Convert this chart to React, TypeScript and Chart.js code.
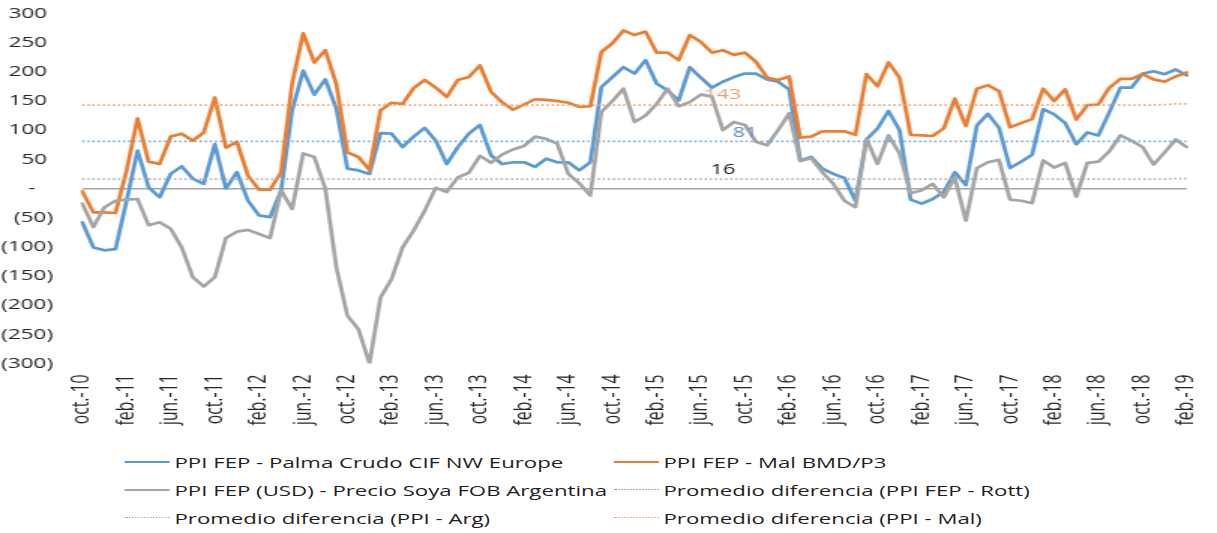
import React, { useEffect, useRef } from 'react';
import { Chart, registerables } from 'chart.js';

Chart.register(...registerables);

// ---------- categories ----------
const MONTH_NAMES = ['ene.', 'feb.', 'mar.', 'abr.', 'may.', 'jun.', 'jul.', 'ago.', 'sept.', 'oct.', 'nov.', 'dic.'];
const START_YEAR = 2010;
const START_MONTH = 9; // octubre
const N_MONTHS = 101; // oct-10 .. feb-19
const categories: string[] = Array.from({ length: N_MONTHS }, (_, i) => {
  const m = (START_MONTH + i) % 12;
  const y = START_YEAR + Math.floor((START_MONTH + i) / 12);
  return `${MONTH_NAMES[m]}-${String(y % 100).padStart(2, '0')}`;
});
const LABEL_EVERY = 4;

// ---------- series ----------
const palmaCrudo = [
  -58, -101, -106, -104, -22, 65, 2, -15, 25, 38,
  17, 8, 76, 0, 28, -21, -46, -49, -3, 134,
  202, 161, 187, 137, 34, 31, 25, 95, 94, 71,
  89, 104, 82, 42, 71, 94, 109, 57, 42, 45,
  45, 37, 51, 45, 45, 31, 45, 174, 191, 208,
  197, 220, 180, 168, 151, 208, 190, 173, 183, 191,
  197, 197, 187, 183, 170, 48, 54, 34, 25, 18,
  -21, 84, 103, 133, 100, -19, -26, -18, -6, 28,
  6, 108, 128, 104, 35, 46, 58, 136, 127, 112,
  76, 96, 91, 131, 173, 173, 197, 201, 196, 204,
  194,
];

const malBmd = [
  -5, -41, -41, -42, 30, 120, 46, 42, 89, 94,
  82, 96, 156, 70, 80, 22, -2, -2, 28, 180,
  266, 216, 237, 179, 62, 54, 32, 134, 147, 145,
  172, 186, 173, 157, 186, 191, 211, 166, 148, 135,
  144, 153, 152, 150, 147, 140, 141, 234, 249, 271,
  263, 269, 233, 233, 220, 263, 251, 233, 237, 229,
  233, 217, 190, 186, 192, 87, 89, 98, 98, 98,
  92, 196, 175, 216, 190, 92, 91, 90, 103, 154,
  107, 171, 177, 167, 105, 112, 119, 171, 150, 170,
  118, 143, 144, 173, 188, 188, 196, 187, 183, 192,
  199,
];

const soyaArg = [
  -26, -66, -32, -21, -19, -18, -63, -58, -69, -101,
  -152, -168, -152, -85, -74, -71, -78, -85, -3, -35,
  60, 54, 0, -135, -218, -241, -300, -187, -155, -101,
  -72, -38, 1, -6, 19, 27, 56, 44, 58, 67,
  73, 89, 85, 77, 25, 9, -12, 131, 150, 171,
  114, 125, 145, 171, 141, 148, 161, 158, 100, 114,
  109, 80, 74, 100, 129, 47, 52, 28, 8, -21,
  -32, 85, 42, 91, 60, -8, -3, 8, -15, 19,
  -55, 35, 45, 49, -19, -21, -25, 48, 36, 44,
  -14, 44, 46, 64, 91, 82, 71, 41, 62, 84,
  71,
];

const promRott = [
  81, 81, 81, 81, 81, 81, 81, 81, 81, 81,
  81, 81, 81, 81, 81, 81, 81, 81, 81, 81,
  81, 81, 81, 81, 81, 81, 81, 81, 81, 81,
  81, 81, 81, 81, 81, 81, 81, 81, 81, 81,
  81, 81, 81, 81, 81, 81, 81, 81, 81, 81,
  81, 81, 81, 81, 81, 81, 81, 81, 81, 81,
  81, 81, 81, 81, 81, 81, 81, 81, 81, 81,
  81, 81, 81, 81, 81, 81, 81, 81, 81, 81,
  81, 81, 81, 81, 81, 81, 81, 81, 81, 81,
  81, 81, 81, 81, 81, 81, 81, 81, 81, 81,
  81,
];

const promArg = [
  16, 16, 16, 16, 16, 16, 16, 16, 16, 16,
  16, 16, 16, 16, 16, 16, 16, 16, 16, 16,
  16, 16, 16, 16, 16, 16, 16, 16, 16, 16,
  16, 16, 16, 16, 16, 16, 16, 16, 16, 16,
  16, 16, 16, 16, 16, 16, 16, 16, 16, 16,
  16, 16, 16, 16, 16, 16, 16, 16, 16, 16,
  16, 16, 16, 16, 16, 16, 16, 16, 16, 16,
  16, 16, 16, 16, 16, 16, 16, 16, 16, 16,
  16, 16, 16, 16, 16, 16, 16, 16, 16, 16,
  16, 16, 16, 16, 16, 16, 16, 16, 16, 17,
  17,
];

const promMal = [
  143, 143, 143, 143, 143, 143, 143, 143, 143, 143,
  143, 143, 143, 143, 143, 143, 143, 143, 143, 143,
  143, 143, 143, 143, 143, 143, 143, 143, 143, 143,
  143, 143, 143, 143, 143, 143, 143, 143, 143, 143,
  143, 143, 143, 143, 143, 143, 143, 143, 143, 143,
  143, 143, 143, 143, 143, 143, 143, 143, 143, 143,
  143, 143, 143, 143, 143, 143, 143, 143, 143, 143,
  143, 143, 143, 143, 143, 143, 143, 143, 143, 143,
  143, 143, 143, 143, 143, 143, 143, 143, 143, 143,
  143, 143, 143, 143, 143, 143, 143, 143, 144, 145,
  145,
];

const seriesLabels = [
  'PPI FEP - Palma Crudo CIF NW Europe',
  'PPI FEP - Mal BMD/P3',
  'PPI FEP (USD) - Precio Soya FOB Argentina',
  'Promedio diferencia (PPI FEP - Rott)',
  'Promedio diferencia (PPI - Arg)',
  'Promedio diferencia (PPI - Mal)',
];

// ---------- styling ----------
const BLUE = '#5B9BD5';
const ORANGE = '#ED7D31';
const GRAY = '#A5A5A5';
const BLUE_DOT = '#6E9FD6';
const GRAY_DOT = '#ABABAB';
const ORANGE_DOT = '#F19A60';
const TEXT = '#262626';
const FONT = "'Open Sans', 'DejaVu Sans', sans-serif";

const OUT_W = 1217;
const BASE_W = 811;
const STRETCH = OUT_W / BASE_W;
const CANVAS_H = 440;
const PLOT_LEFT = 82.3 / STRETCH;
const PLOT_RIGHT = 1186.7 / STRETCH;
const PLOT_TOP = 13.5;
const PLOT_BOTTOM = 363.5;

// value labels on the average lines
const AVG_LABELS = [
  { ds: 5, idx: 58, color: '#F0A06C', dy: -10 },
  { ds: 3, idx: 60, color: '#5B8FCB', dy: -8 },
  { ds: 4, idx: 58, color: '#1A1A1A', dy: -9 },
];

const avgLabelPlugin = {
  id: 'avgLabels',
  afterDatasetsDraw(chart: any) {
    const ctx = chart.ctx;
    ctx.save();
    ctx.font = `14.5px ${FONT}`;
    ctx.textAlign = 'center';
    ctx.textBaseline = 'middle';
    AVG_LABELS.forEach((l) => {
      const meta = chart.getDatasetMeta(l.ds);
      const pt = meta.data[l.idx];
      if (!pt) return;
      const val = chart.data.datasets[l.ds].data[l.idx];
      ctx.fillStyle = l.color;
      ctx.fillText(String(Math.round(val)), pt.x, pt.y + l.dy);
    });
    ctx.restore();
  },
};

const LEGEND = [
  { i: 0, color: BLUE, dotted: false, col: 0, row: 0 },
  { i: 1, color: ORANGE, dotted: false, col: 1, row: 0 },
  { i: 2, color: GRAY, dotted: false, col: 0, row: 1 },
  { i: 3, color: BLUE_DOT, dotted: true, col: 1, row: 1 },
  { i: 4, color: GRAY_DOT, dotted: true, col: 0, row: 2 },
  { i: 5, color: ORANGE_DOT, dotted: true, col: 1, row: 2 },
];
const LEGEND_COL_X = [125 / STRETCH, 614 / STRETCH];
const LEGEND_ROW_Y = [462, 490, 518];
const LEGEND_LINE_W = 30;

function fmtY(v: number): string {
  if (v > 0) return `${v} `;
  if (v < 0) return `(${-v})`;
  return '-   ';
}

export default function App() {
  const ref = useRef<HTMLCanvasElement | null>(null);

  useEffect(() => {
    if (!ref.current) return;
    const solid = (label: string, data: number[], color: string, order: number) => ({
      label,
      data,
      borderColor: color,
      backgroundColor: color,
      borderWidth: 2.75,
      pointRadius: 0,
      tension: 0,
      borderJoinStyle: 'round' as const,
      borderCapStyle: 'round' as const,
      fill: false,
      order,
    });
    const dotted = (label: string, data: number[], color: string, order: number) => ({
      label,
      data,
      borderColor: color,
      backgroundColor: color,
      borderWidth: 1.75,
      borderDash: [1.4, 2.0],
      pointRadius: 0,
      tension: 0,
      fill: false,
      order,
    });

    const chart = new Chart(ref.current, {
      type: 'line',
      data: {
        labels: categories,
        datasets: [
          solid(seriesLabels[0], palmaCrudo, BLUE, 6),
          solid(seriesLabels[1], malBmd, ORANGE, 5),
          solid(seriesLabels[2], soyaArg, GRAY, 4),
          dotted(seriesLabels[3], promRott, BLUE_DOT, 3),
          dotted(seriesLabels[4], promArg, GRAY_DOT, 2),
          dotted(seriesLabels[5], promMal, ORANGE_DOT, 1),
        ],
      },
      options: {
        animation: false,
        responsive: true,
        maintainAspectRatio: false,
        layout: {
          padding: { top: PLOT_TOP, right: BASE_W - PLOT_RIGHT, left: 0, bottom: 0 },
        },
        plugins: {
          legend: { display: false },
          tooltip: { enabled: false },
        },
        scales: {
          x: {
            type: 'category',
            offset: false,
            grid: { display: false, drawTicks: false },
            border: { display: false },
            ticks: {
              autoSkip: false,
              minRotation: 90,
              maxRotation: 90,
              padding: 11,
              color: TEXT,
              font: { family: FONT, size: 15.75 },
              callback: (_v: any, i: number) => (i % LABEL_EVERY === 0 ? categories[i] : ''),
            },
            afterFit: (s: any) => {
              s.height = CANVAS_H - PLOT_BOTTOM;
              s.paddingLeft = 0;
              s.paddingRight = 0;
              s.paddingTop = 0;
              s.paddingBottom = 0;
            },
          },
          y: {
            min: -300,
            max: 300,
            grid: {
              drawTicks: false,
              lineWidth: 1.5,
              color: (c: any) => (c.tick && c.tick.value === 0 ? '#A6A6A6' : 'rgba(0,0,0,0)'),
            },
            border: { display: false },
            ticks: {
              stepSize: 50,
              padding: PLOT_LEFT - 35.3,
              color: TEXT,
              font: { family: FONT, size: 15 },
              callback: (v: any) => fmtY(Number(v)),
            },
            afterFit: (s: any) => {
              s.width = PLOT_LEFT;
              s.paddingTop = 0;
              s.paddingBottom = 0;
              s.paddingLeft = 0;
              s.paddingRight = 0;
            },
          },
        },
      },
      plugins: [avgLabelPlugin],
    } as any);
    return () => chart.destroy();
  }, []);

  return (
    <div
      style={{
        position: 'fixed',
        left: 0,
        top: 0,
        width: BASE_W,
        height: 533,
        transform: `scaleX(${STRETCH})`,
        transformOrigin: '0 0',
        background: '#ffffff',
        overflow: 'hidden',
      }}
    >
      <div style={{ position: 'absolute', left: 0, top: 0, width: BASE_W, height: CANVAS_H }}>
        <canvas ref={ref} />
      </div>
      {LEGEND.map((item) => {
        const x = LEGEND_COL_X[item.col];
        const y = LEGEND_ROW_Y[item.row];
        const thick = item.dotted ? 1.4 : 2.75;
        return (
          <React.Fragment key={item.i}>
            <div
              style={{
                position: 'absolute',
                left: x,
                top: y - thick / 2,
                width: LEGEND_LINE_W,
                height: 0,
                borderTop: `${thick}px ${item.dotted ? 'dotted' : 'solid'} ${item.color}`,
              }}
            />
            <div
              style={{
                position: 'absolute',
                left: x + LEGEND_LINE_W + 3,
                top: y - 10,
                height: 20,
                lineHeight: '20px',
                fontFamily: FONT,
                fontSize: 14.8,
                color: '#1F1F1F',
                whiteSpace: 'nowrap',
              }}
            >
              {seriesLabels[item.i]}
            </div>
          </React.Fragment>
        );
      })}
    </div>
  );
}
